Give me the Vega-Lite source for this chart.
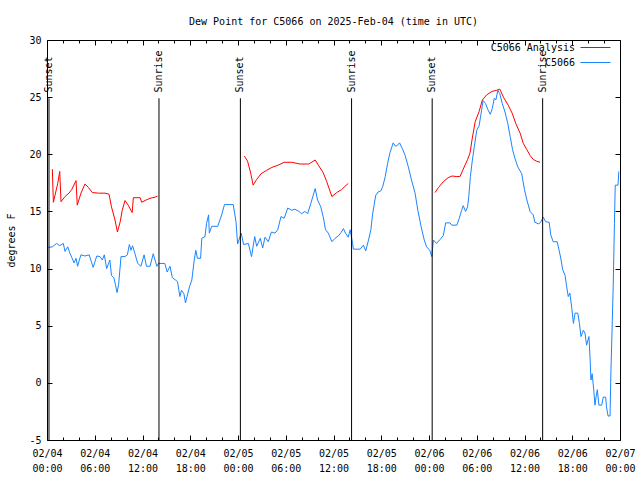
{
  "$schema": "https://vega.github.io/schema/vega-lite/v6.json",
  "width": 573,
  "height": 400,
  "autosize": {"type": "none"},
  "padding": {"left": 47, "top": 40, "right": 20, "bottom": 40},
  "background": "white",
  "title": {"text": "Dew Point for C5066 on 2025-Feb-04 (time in UTC)", "font": "DejaVu Sans Mono", "fontSize": 10, "fontWeight": "normal", "color": "black", "offset": 8},
  "config": {
    "view": {"stroke": "black", "strokeWidth": 1},
    "font": "DejaVu Sans Mono"
  },
  "datasets": {
    "events": [
      {"h": 0.25, "label": "Sunset"},
      {"h": 14.07, "label": "Sunrise"},
      {"h": 24.3, "label": "Sunset"},
      {"h": 38.27, "label": "Sunrise"},
      {"h": 48.4, "label": "Sunset"},
      {"h": 62.28, "label": "Sunrise"}
    ],
    "lines": [
      {"s": "C5066", "g": 0, "h": 0.17, "v": 11.85},
      {"s": "C5066", "g": 0, "h": 0.67, "v": 11.9},
      {"s": "C5066", "g": 0, "h": 1.2, "v": 12.2},
      {"s": "C5066", "g": 0, "h": 1.6, "v": 12.0},
      {"s": "C5066", "g": 0, "h": 2.05, "v": 12.2},
      {"s": "C5066", "g": 0, "h": 2.26, "v": 11.5},
      {"s": "C5066", "g": 0, "h": 2.6, "v": 11.9},
      {"s": "C5066", "g": 0, "h": 2.9, "v": 11.3},
      {"s": "C5066", "g": 0, "h": 3.1, "v": 11.0},
      {"s": "C5066", "g": 0, "h": 3.4, "v": 10.5},
      {"s": "C5066", "g": 0, "h": 3.65, "v": 10.9},
      {"s": "C5066", "g": 0, "h": 3.85, "v": 10.2},
      {"s": "C5066", "g": 0, "h": 4.06, "v": 10.75},
      {"s": "C5066", "g": 0, "h": 4.27, "v": 11.2},
      {"s": "C5066", "g": 0, "h": 4.77, "v": 11.1},
      {"s": "C5066", "g": 0, "h": 5.3, "v": 11.2},
      {"s": "C5066", "g": 0, "h": 5.8, "v": 10.1},
      {"s": "C5066", "g": 0, "h": 6.25, "v": 11.1},
      {"s": "C5066", "g": 0, "h": 6.66, "v": 11.05},
      {"s": "C5066", "g": 0, "h": 6.95, "v": 10.75},
      {"s": "C5066", "g": 0, "h": 7.2, "v": 11.2},
      {"s": "C5066", "g": 0, "h": 7.5, "v": 10.0},
      {"s": "C5066", "g": 0, "h": 7.9, "v": 10.75},
      {"s": "C5066", "g": 0, "h": 8.1, "v": 9.4},
      {"s": "C5066", "g": 0, "h": 8.4, "v": 9.2},
      {"s": "C5066", "g": 0, "h": 8.6, "v": 8.6},
      {"s": "C5066", "g": 0, "h": 8.8, "v": 7.9},
      {"s": "C5066", "g": 0, "h": 9.0, "v": 8.6},
      {"s": "C5066", "g": 0, "h": 9.3, "v": 11.05},
      {"s": "C5066", "g": 0, "h": 9.8, "v": 11.05},
      {"s": "C5066", "g": 0, "h": 10.1, "v": 11.2},
      {"s": "C5066", "g": 0, "h": 10.35, "v": 12.1},
      {"s": "C5066", "g": 0, "h": 10.55, "v": 11.6},
      {"s": "C5066", "g": 0, "h": 10.75, "v": 12.0},
      {"s": "C5066", "g": 0, "h": 11.05, "v": 11.3},
      {"s": "C5066", "g": 0, "h": 11.4, "v": 10.45},
      {"s": "C5066", "g": 0, "h": 11.8, "v": 10.2},
      {"s": "C5066", "g": 0, "h": 12.2, "v": 11.2},
      {"s": "C5066", "g": 0, "h": 12.5, "v": 10.2},
      {"s": "C5066", "g": 0, "h": 12.95, "v": 10.2},
      {"s": "C5066", "g": 0, "h": 13.35, "v": 11.3},
      {"s": "C5066", "g": 0, "h": 13.8, "v": 10.2},
      {"s": "C5066", "g": 0, "h": 14.0, "v": 10.45},
      {"s": "C5066", "g": 0, "h": 14.8, "v": 10.45},
      {"s": "C5066", "g": 0, "h": 15.1, "v": 9.7},
      {"s": "C5066", "g": 0, "h": 15.45, "v": 10.2},
      {"s": "C5066", "g": 0, "h": 15.75, "v": 9.2},
      {"s": "C5066", "g": 0, "h": 16.15, "v": 9.0},
      {"s": "C5066", "g": 0, "h": 16.4, "v": 8.85},
      {"s": "C5066", "g": 0, "h": 16.7, "v": 7.55},
      {"s": "C5066", "g": 0, "h": 16.9, "v": 8.1},
      {"s": "C5066", "g": 0, "h": 17.2, "v": 7.8},
      {"s": "C5066", "g": 0, "h": 17.4, "v": 7.0},
      {"s": "C5066", "g": 0, "h": 17.6, "v": 7.55},
      {"s": "C5066", "g": 0, "h": 17.9, "v": 8.4},
      {"s": "C5066", "g": 0, "h": 18.2, "v": 9.0},
      {"s": "C5066", "g": 0, "h": 18.5, "v": 10.75},
      {"s": "C5066", "g": 0, "h": 18.7, "v": 11.6},
      {"s": "C5066", "g": 0, "h": 18.9, "v": 10.9},
      {"s": "C5066", "g": 0, "h": 19.3, "v": 10.9},
      {"s": "C5066", "g": 0, "h": 19.45, "v": 12.65},
      {"s": "C5066", "g": 0, "h": 19.85, "v": 12.8},
      {"s": "C5066", "g": 0, "h": 20.05, "v": 13.95},
      {"s": "C5066", "g": 0, "h": 20.3, "v": 14.7},
      {"s": "C5066", "g": 0, "h": 20.4, "v": 13.1},
      {"s": "C5066", "g": 0, "h": 20.7, "v": 13.7},
      {"s": "C5066", "g": 0, "h": 21.45, "v": 13.7},
      {"s": "C5066", "g": 0, "h": 21.95, "v": 14.7},
      {"s": "C5066", "g": 0, "h": 22.3, "v": 15.6},
      {"s": "C5066", "g": 0, "h": 23.4, "v": 15.6},
      {"s": "C5066", "g": 0, "h": 23.75, "v": 14.1},
      {"s": "C5066", "g": 0, "h": 23.95, "v": 12.15},
      {"s": "C5066", "g": 0, "h": 24.4, "v": 13.1},
      {"s": "C5066", "g": 0, "h": 24.7, "v": 12.1},
      {"s": "C5066", "g": 0, "h": 25.3, "v": 12.2},
      {"s": "C5066", "g": 0, "h": 25.7, "v": 11.05},
      {"s": "C5066", "g": 0, "h": 26.1, "v": 12.8},
      {"s": "C5066", "g": 0, "h": 26.35, "v": 11.95},
      {"s": "C5066", "g": 0, "h": 26.8, "v": 12.65},
      {"s": "C5066", "g": 0, "h": 27.1, "v": 11.8},
      {"s": "C5066", "g": 0, "h": 27.4, "v": 12.75},
      {"s": "C5066", "g": 0, "h": 27.8, "v": 12.35},
      {"s": "C5066", "g": 0, "h": 28.2, "v": 13.2},
      {"s": "C5066", "g": 0, "h": 28.65, "v": 13.1},
      {"s": "C5066", "g": 0, "h": 29.0, "v": 13.4},
      {"s": "C5066", "g": 0, "h": 29.4, "v": 14.55},
      {"s": "C5066", "g": 0, "h": 29.8, "v": 14.4},
      {"s": "C5066", "g": 0, "h": 30.25, "v": 15.3},
      {"s": "C5066", "g": 0, "h": 30.75, "v": 15.1},
      {"s": "C5066", "g": 0, "h": 31.15, "v": 15.2},
      {"s": "C5066", "g": 0, "h": 31.65, "v": 15.0},
      {"s": "C5066", "g": 0, "h": 32.0, "v": 14.8},
      {"s": "C5066", "g": 0, "h": 32.4, "v": 15.0},
      {"s": "C5066", "g": 0, "h": 32.75, "v": 14.8},
      {"s": "C5066", "g": 0, "h": 33.15, "v": 15.7},
      {"s": "C5066", "g": 0, "h": 33.7, "v": 17.0},
      {"s": "C5066", "g": 0, "h": 34.0, "v": 16.0},
      {"s": "C5066", "g": 0, "h": 34.4, "v": 15.4},
      {"s": "C5066", "g": 0, "h": 34.7, "v": 14.55},
      {"s": "C5066", "g": 0, "h": 35.0, "v": 13.4},
      {"s": "C5066", "g": 0, "h": 35.35, "v": 13.1},
      {"s": "C5066", "g": 0, "h": 35.8, "v": 12.35},
      {"s": "C5066", "g": 0, "h": 36.2, "v": 12.65},
      {"s": "C5066", "g": 0, "h": 36.6, "v": 12.85},
      {"s": "C5066", "g": 0, "h": 36.95, "v": 13.15},
      {"s": "C5066", "g": 0, "h": 37.25, "v": 13.5},
      {"s": "C5066", "g": 0, "h": 37.5, "v": 13.1},
      {"s": "C5066", "g": 0, "h": 37.85, "v": 12.75},
      {"s": "C5066", "g": 0, "h": 38.1, "v": 13.4},
      {"s": "C5066", "g": 0, "h": 38.4, "v": 12.2},
      {"s": "C5066", "g": 0, "h": 38.5, "v": 11.7},
      {"s": "C5066", "g": 0, "h": 39.35, "v": 11.7},
      {"s": "C5066", "g": 0, "h": 39.75, "v": 12.05},
      {"s": "C5066", "g": 0, "h": 40.05, "v": 11.55},
      {"s": "C5066", "g": 0, "h": 40.4, "v": 12.5},
      {"s": "C5066", "g": 0, "h": 40.7, "v": 13.4},
      {"s": "C5066", "g": 0, "h": 40.9, "v": 14.7},
      {"s": "C5066", "g": 0, "h": 41.1, "v": 15.55},
      {"s": "C5066", "g": 0, "h": 41.3, "v": 16.4},
      {"s": "C5066", "g": 0, "h": 41.6, "v": 16.7},
      {"s": "C5066", "g": 0, "h": 41.95, "v": 16.8},
      {"s": "C5066", "g": 0, "h": 42.2, "v": 17.2},
      {"s": "C5066", "g": 0, "h": 42.5, "v": 18.05},
      {"s": "C5066", "g": 0, "h": 42.8, "v": 19.2},
      {"s": "C5066", "g": 0, "h": 43.1, "v": 20.15},
      {"s": "C5066", "g": 0, "h": 43.5, "v": 21.0},
      {"s": "C5066", "g": 0, "h": 43.8, "v": 20.7},
      {"s": "C5066", "g": 0, "h": 44.05, "v": 20.8},
      {"s": "C5066", "g": 0, "h": 44.3, "v": 21.0},
      {"s": "C5066", "g": 0, "h": 44.65, "v": 20.5},
      {"s": "C5066", "g": 0, "h": 45.0, "v": 19.9},
      {"s": "C5066", "g": 0, "h": 45.4, "v": 18.9},
      {"s": "C5066", "g": 0, "h": 45.8, "v": 17.75},
      {"s": "C5066", "g": 0, "h": 46.25, "v": 16.6},
      {"s": "C5066", "g": 0, "h": 46.6, "v": 15.1},
      {"s": "C5066", "g": 0, "h": 47.0, "v": 13.7},
      {"s": "C5066", "g": 0, "h": 47.4, "v": 12.5},
      {"s": "C5066", "g": 0, "h": 47.7, "v": 11.9},
      {"s": "C5066", "g": 0, "h": 48.1, "v": 11.6},
      {"s": "C5066", "g": 0, "h": 48.35, "v": 11.05},
      {"s": "C5066", "g": 0, "h": 48.55, "v": 12.5},
      {"s": "C5066", "g": 0, "h": 48.95, "v": 12.2},
      {"s": "C5066", "g": 0, "h": 49.4, "v": 12.55},
      {"s": "C5066", "g": 0, "h": 49.8, "v": 12.9},
      {"s": "C5066", "g": 0, "h": 50.1, "v": 14.0},
      {"s": "C5066", "g": 0, "h": 50.65, "v": 14.0},
      {"s": "C5066", "g": 0, "h": 50.85, "v": 13.8},
      {"s": "C5066", "g": 0, "h": 51.5, "v": 13.8},
      {"s": "C5066", "g": 0, "h": 51.8, "v": 14.4},
      {"s": "C5066", "g": 0, "h": 52.1, "v": 15.1},
      {"s": "C5066", "g": 0, "h": 52.3, "v": 15.5},
      {"s": "C5066", "g": 0, "h": 52.6, "v": 15.0},
      {"s": "C5066", "g": 0, "h": 52.85, "v": 15.4},
      {"s": "C5066", "g": 0, "h": 53.0, "v": 16.3},
      {"s": "C5066", "g": 0, "h": 53.2, "v": 18.05},
      {"s": "C5066", "g": 0, "h": 53.45, "v": 19.5},
      {"s": "C5066", "g": 0, "h": 53.7, "v": 20.7},
      {"s": "C5066", "g": 0, "h": 54.0, "v": 22.1},
      {"s": "C5066", "g": 0, "h": 54.3, "v": 22.5},
      {"s": "C5066", "g": 0, "h": 54.55, "v": 23.6},
      {"s": "C5066", "g": 0, "h": 54.8, "v": 24.7},
      {"s": "C5066", "g": 0, "h": 55.1, "v": 24.45},
      {"s": "C5066", "g": 0, "h": 55.4, "v": 23.9},
      {"s": "C5066", "g": 0, "h": 55.7, "v": 23.5},
      {"s": "C5066", "g": 0, "h": 55.95, "v": 24.0},
      {"s": "C5066", "g": 0, "h": 56.2, "v": 24.9},
      {"s": "C5066", "g": 0, "h": 56.4, "v": 24.75},
      {"s": "C5066", "g": 0, "h": 56.65, "v": 25.6},
      {"s": "C5066", "g": 0, "h": 56.9, "v": 25.3},
      {"s": "C5066", "g": 0, "h": 57.2, "v": 24.45},
      {"s": "C5066", "g": 0, "h": 57.55, "v": 23.7},
      {"s": "C5066", "g": 0, "h": 57.9, "v": 22.7},
      {"s": "C5066", "g": 0, "h": 58.2, "v": 21.55},
      {"s": "C5066", "g": 0, "h": 58.5, "v": 20.4},
      {"s": "C5066", "g": 0, "h": 58.8, "v": 19.65},
      {"s": "C5066", "g": 0, "h": 59.15, "v": 18.9},
      {"s": "C5066", "g": 0, "h": 59.65, "v": 18.3},
      {"s": "C5066", "g": 0, "h": 60.0, "v": 16.9},
      {"s": "C5066", "g": 0, "h": 60.3, "v": 16.0},
      {"s": "C5066", "g": 0, "h": 60.7, "v": 15.0},
      {"s": "C5066", "g": 0, "h": 61.1, "v": 14.7},
      {"s": "C5066", "g": 0, "h": 61.3, "v": 14.05},
      {"s": "C5066", "g": 0, "h": 61.8, "v": 13.9},
      {"s": "C5066", "g": 0, "h": 62.05, "v": 14.1},
      {"s": "C5066", "g": 0, "h": 62.35, "v": 14.5},
      {"s": "C5066", "g": 0, "h": 62.65, "v": 14.1},
      {"s": "C5066", "g": 0, "h": 63.1, "v": 14.05},
      {"s": "C5066", "g": 0, "h": 63.3, "v": 12.95},
      {"s": "C5066", "g": 0, "h": 63.6, "v": 12.35},
      {"s": "C5066", "g": 0, "h": 64.1, "v": 12.35},
      {"s": "C5066", "g": 0, "h": 64.35, "v": 11.6},
      {"s": "C5066", "g": 0, "h": 64.6, "v": 10.75},
      {"s": "C5066", "g": 0, "h": 64.8, "v": 9.9},
      {"s": "C5066", "g": 0, "h": 65.1, "v": 9.4},
      {"s": "C5066", "g": 0, "h": 65.3, "v": 8.4},
      {"s": "C5066", "g": 0, "h": 65.5, "v": 7.55},
      {"s": "C5066", "g": 0, "h": 65.7, "v": 7.85},
      {"s": "C5066", "g": 0, "h": 65.95, "v": 6.5},
      {"s": "C5066", "g": 0, "h": 66.15, "v": 5.2},
      {"s": "C5066", "g": 0, "h": 66.35, "v": 6.1},
      {"s": "C5066", "g": 0, "h": 66.7, "v": 6.1},
      {"s": "C5066", "g": 0, "h": 66.9, "v": 5.2},
      {"s": "C5066", "g": 0, "h": 67.1, "v": 4.05},
      {"s": "C5066", "g": 0, "h": 67.4, "v": 4.6},
      {"s": "C5066", "g": 0, "h": 67.6, "v": 4.35},
      {"s": "C5066", "g": 0, "h": 67.8, "v": 3.3},
      {"s": "C5066", "g": 0, "h": 68.1, "v": 4.05},
      {"s": "C5066", "g": 0, "h": 68.25, "v": 2.0},
      {"s": "C5066", "g": 0, "h": 68.35, "v": 0.25},
      {"s": "C5066", "g": 0, "h": 68.5, "v": 0.8},
      {"s": "C5066", "g": 0, "h": 68.7, "v": -0.6},
      {"s": "C5066", "g": 0, "h": 68.85, "v": -1.95},
      {"s": "C5066", "g": 0, "h": 69.0, "v": -1.2},
      {"s": "C5066", "g": 0, "h": 69.15, "v": -0.6},
      {"s": "C5066", "g": 0, "h": 69.35, "v": -1.95},
      {"s": "C5066", "g": 0, "h": 69.7, "v": -1.95},
      {"s": "C5066", "g": 0, "h": 69.9, "v": -1.25},
      {"s": "C5066", "g": 0, "h": 70.2, "v": -1.25},
      {"s": "C5066", "g": 0, "h": 70.3, "v": -2.1},
      {"s": "C5066", "g": 0, "h": 70.5, "v": -2.9},
      {"s": "C5066", "g": 0, "h": 70.75, "v": -2.9},
      {"s": "C5066", "g": 0, "h": 70.85, "v": 0.7},
      {"s": "C5066", "g": 0, "h": 71.0, "v": 4.6},
      {"s": "C5066", "g": 0, "h": 71.15, "v": 8.55},
      {"s": "C5066", "g": 0, "h": 71.3, "v": 13.95},
      {"s": "C5066", "g": 0, "h": 71.4, "v": 17.3},
      {"s": "C5066", "g": 0, "h": 71.75, "v": 17.3},
      {"s": "C5066", "g": 0, "h": 71.85, "v": 18.5},
      {"s": "C5066 Analysis", "g": 1, "h": 0.67, "v": 18.7},
      {"s": "C5066 Analysis", "g": 1, "h": 0.8, "v": 15.8},
      {"s": "C5066 Analysis", "g": 1, "h": 1.35, "v": 17.45},
      {"s": "C5066 Analysis", "g": 1, "h": 1.6, "v": 18.5},
      {"s": "C5066 Analysis", "g": 1, "h": 1.76, "v": 15.85},
      {"s": "C5066 Analysis", "g": 1, "h": 2.26, "v": 16.3},
      {"s": "C5066 Analysis", "g": 1, "h": 2.76, "v": 16.6},
      {"s": "C5066 Analysis", "g": 1, "h": 3.1, "v": 16.9},
      {"s": "C5066 Analysis", "g": 1, "h": 3.65, "v": 17.7},
      {"s": "C5066 Analysis", "g": 1, "h": 3.8, "v": 15.55},
      {"s": "C5066 Analysis", "g": 1, "h": 4.27, "v": 16.6},
      {"s": "C5066 Analysis", "g": 1, "h": 4.77, "v": 17.4},
      {"s": "C5066 Analysis", "g": 1, "h": 5.2, "v": 17.1},
      {"s": "C5066 Analysis", "g": 1, "h": 5.7, "v": 16.65},
      {"s": "C5066 Analysis", "g": 1, "h": 6.45, "v": 16.6},
      {"s": "C5066 Analysis", "g": 1, "h": 7.3, "v": 16.6},
      {"s": "C5066 Analysis", "g": 1, "h": 7.8, "v": 16.5},
      {"s": "C5066 Analysis", "g": 1, "h": 8.1, "v": 15.4},
      {"s": "C5066 Analysis", "g": 1, "h": 8.55, "v": 14.25},
      {"s": "C5066 Analysis", "g": 1, "h": 8.85, "v": 13.2},
      {"s": "C5066 Analysis", "g": 1, "h": 9.2, "v": 14.1},
      {"s": "C5066 Analysis", "g": 1, "h": 9.45, "v": 15.1},
      {"s": "C5066 Analysis", "g": 1, "h": 9.8, "v": 15.95},
      {"s": "C5066 Analysis", "g": 1, "h": 10.2, "v": 15.55},
      {"s": "C5066 Analysis", "g": 1, "h": 10.7, "v": 14.9},
      {"s": "C5066 Analysis", "g": 1, "h": 10.85, "v": 16.2},
      {"s": "C5066 Analysis", "g": 1, "h": 11.7, "v": 16.2},
      {"s": "C5066 Analysis", "g": 1, "h": 11.9, "v": 15.8},
      {"s": "C5066 Analysis", "g": 1, "h": 12.45, "v": 16.0},
      {"s": "C5066 Analysis", "g": 1, "h": 12.95, "v": 16.15},
      {"s": "C5066 Analysis", "g": 1, "h": 13.6, "v": 16.25},
      {"s": "C5066 Analysis", "g": 1, "h": 13.9, "v": 16.35},
      {"s": "C5066 Analysis", "g": 2, "h": 24.8, "v": 19.85},
      {"s": "C5066 Analysis", "g": 2, "h": 25.2, "v": 19.4},
      {"s": "C5066 Analysis", "g": 2, "h": 25.6, "v": 18.35},
      {"s": "C5066 Analysis", "g": 2, "h": 25.9, "v": 17.3},
      {"s": "C5066 Analysis", "g": 2, "h": 26.35, "v": 17.8},
      {"s": "C5066 Analysis", "g": 2, "h": 26.9, "v": 18.3},
      {"s": "C5066 Analysis", "g": 2, "h": 27.6, "v": 18.6},
      {"s": "C5066 Analysis", "g": 2, "h": 28.25, "v": 18.85},
      {"s": "C5066 Analysis", "g": 2, "h": 29.05, "v": 19.05},
      {"s": "C5066 Analysis", "g": 2, "h": 29.8, "v": 19.3},
      {"s": "C5066 Analysis", "g": 2, "h": 30.75, "v": 19.3},
      {"s": "C5066 Analysis", "g": 2, "h": 31.8, "v": 19.15},
      {"s": "C5066 Analysis", "g": 2, "h": 32.9, "v": 19.15},
      {"s": "C5066 Analysis", "g": 2, "h": 33.7, "v": 19.5},
      {"s": "C5066 Analysis", "g": 2, "h": 34.1, "v": 19.05},
      {"s": "C5066 Analysis", "g": 2, "h": 34.7, "v": 18.4},
      {"s": "C5066 Analysis", "g": 2, "h": 35.15, "v": 17.6},
      {"s": "C5066 Analysis", "g": 2, "h": 35.8, "v": 16.3},
      {"s": "C5066 Analysis", "g": 2, "h": 36.4, "v": 16.65},
      {"s": "C5066 Analysis", "g": 2, "h": 37.0, "v": 16.9},
      {"s": "C5066 Analysis", "g": 2, "h": 37.45, "v": 17.2},
      {"s": "C5066 Analysis", "g": 2, "h": 37.85, "v": 17.45},
      {"s": "C5066 Analysis", "g": 3, "h": 48.75, "v": 16.65},
      {"s": "C5066 Analysis", "g": 3, "h": 49.2, "v": 17.1},
      {"s": "C5066 Analysis", "g": 3, "h": 49.8, "v": 17.6},
      {"s": "C5066 Analysis", "g": 3, "h": 50.4, "v": 17.95},
      {"s": "C5066 Analysis", "g": 3, "h": 50.9, "v": 18.1},
      {"s": "C5066 Analysis", "g": 3, "h": 51.5, "v": 18.05},
      {"s": "C5066 Analysis", "g": 3, "h": 51.9, "v": 18.05},
      {"s": "C5066 Analysis", "g": 3, "h": 52.3, "v": 18.7},
      {"s": "C5066 Analysis", "g": 3, "h": 52.85, "v": 19.55},
      {"s": "C5066 Analysis", "g": 3, "h": 53.15, "v": 20.1},
      {"s": "C5066 Analysis", "g": 3, "h": 53.4, "v": 21.25},
      {"s": "C5066 Analysis", "g": 3, "h": 53.8, "v": 22.85},
      {"s": "C5066 Analysis", "g": 3, "h": 54.3, "v": 23.75},
      {"s": "C5066 Analysis", "g": 3, "h": 54.7, "v": 24.75},
      {"s": "C5066 Analysis", "g": 3, "h": 55.25, "v": 25.2},
      {"s": "C5066 Analysis", "g": 3, "h": 55.9, "v": 25.5},
      {"s": "C5066 Analysis", "g": 3, "h": 56.5, "v": 25.6},
      {"s": "C5066 Analysis", "g": 3, "h": 56.9, "v": 25.7},
      {"s": "C5066 Analysis", "g": 3, "h": 57.35, "v": 25.0},
      {"s": "C5066 Analysis", "g": 3, "h": 57.95, "v": 24.3},
      {"s": "C5066 Analysis", "g": 3, "h": 58.45, "v": 23.6},
      {"s": "C5066 Analysis", "g": 3, "h": 58.9, "v": 22.7},
      {"s": "C5066 Analysis", "g": 3, "h": 59.45, "v": 21.85},
      {"s": "C5066 Analysis", "g": 3, "h": 59.85, "v": 20.95},
      {"s": "C5066 Analysis", "g": 3, "h": 60.3, "v": 20.4},
      {"s": "C5066 Analysis", "g": 3, "h": 60.7, "v": 19.9},
      {"s": "C5066 Analysis", "g": 3, "h": 61.1, "v": 19.55},
      {"s": "C5066 Analysis", "g": 3, "h": 61.5, "v": 19.4},
      {"s": "C5066 Analysis", "g": 3, "h": 61.95, "v": 19.3}
    ]
  },
  "layer": [
    {
      "data": {"name": "lines"},
      "mark": {"type": "line", "strokeWidth": 1, "clip": true},
      "encoding": {
        "x": {
          "field": "h", "type": "quantitative",
          "scale": {"domain": [0, 72], "nice": false, "zero": false},
          "axis": {
            "orient": "bottom", "title": null, "domain": false, "grid": false,
            "values": [0,2,4,6,8,10,12,14,16,18,20,22,24,26,28,30,32,34,36,38,40,42,44,46,48,50,52,54,56,58,60,62,64,66,68,70,72],
            "tickSize": {"condition": {"test": "datum.value % 6 === 0", "value": -5}, "value": -3},
            "tickColor": "black", "tickWidth": 1,
            "labelExpr": "datum.value % 6 === 0 ? ['02/0' + (4 + floor(datum.value / 24)), (datum.value % 24 < 10 ? '0' : '') + (datum.value % 24) + ':00'] : ''",
            "labelFont": "DejaVu Sans Mono", "labelFontSize": 10, "labelColor": "black",
            "labelPadding": 13, "labelLineHeight": 15, "labelOverlap": false, "labelFlush": false, "labelBound": false
          }
        },
        "y": {
          "field": "v", "type": "quantitative",
          "scale": {"domain": [-5, 30], "nice": false, "zero": false},
          "axis": {
            "orient": "left", "title": "degrees F", "domain": false, "grid": false,
            "values": [-5,0,5,10,15,20,25,30],
            "tickSize": -5, "tickColor": "black", "tickWidth": 1,
            "labelExpr": "'' + datum.value",
            "labelFont": "DejaVu Sans Mono", "labelFontSize": 10, "labelColor": "black",
            "labelPadding": 11, "labelOverlap": false, "labelFlush": false, "labelBound": false,
            "titleFont": "DejaVu Sans Mono", "titleFontSize": 10, "titleFontWeight": "normal", "titleColor": "black", "titlePadding": 12
          }
        },
        "color": {
          "field": "s", "type": "nominal",
          "scale": {"domain": ["C5066 Analysis", "C5066"], "range": ["#ff0000", "#1a84ff"]},
          "legend": {
            "orient": "none", "legendX": 543, "legendY": 2,
            "title": null, "symbolType": "M-3,0H3", "symbolSize": 100, "symbolStrokeWidth": 1, "symbolFillColor": "transparent",
            "labelFont": "DejaVu Sans Mono", "labelFontSize": 10, "labelColor": "black",
            "labelAlign": "right", "labelOffset": -26, "padding": 0, "rowPadding": 4
          }
        },
        "detail": {"field": "g", "type": "nominal"}
      }
    },
    {
      "data": {"name": "events"},
      "mark": {"type": "rule", "color": "black", "strokeWidth": 1},
      "encoding": {
        "x": {
          "field": "h", "type": "quantitative",
          "axis": {
            "orient": "top", "title": null, "domain": false, "grid": false, "labels": false,
            "values": [0,2,4,6,8,10,12,14,16,18,20,22,24,26,28,30,32,34,36,38,40,42,44,46,48,50,52,54,56,58,60,62,64,66,68,70,72],
            "tickSize": {"condition": {"test": "datum.value % 6 === 0", "value": -5}, "value": -3},
            "tickColor": "black", "tickWidth": 1
          }
        },
        "y": {
          "datum": -5, "type": "quantitative",
          "axis": {
            "orient": "right", "title": null, "domain": false, "grid": false, "labels": false,
            "values": [-5,0,5,10,15,20,25,30],
            "tickSize": -5, "tickColor": "black", "tickWidth": 1
          }
        },
        "y2": {"datum": 24.9}
      }
    },
    {
      "data": {"name": "events"},
      "mark": {"type": "text", "angle": 270, "align": "left", "baseline": "middle", "font": "DejaVu Sans Mono", "fontSize": 10, "color": "black"},
      "encoding": {
        "x": {"field": "h", "type": "quantitative", "axis": null},
        "y": {"datum": 25.4, "type": "quantitative", "axis": null},
        "text": {"field": "label"}
      }
    }
  ],
  "resolve": {"axis": {"x": "independent", "y": "independent"}}
}
